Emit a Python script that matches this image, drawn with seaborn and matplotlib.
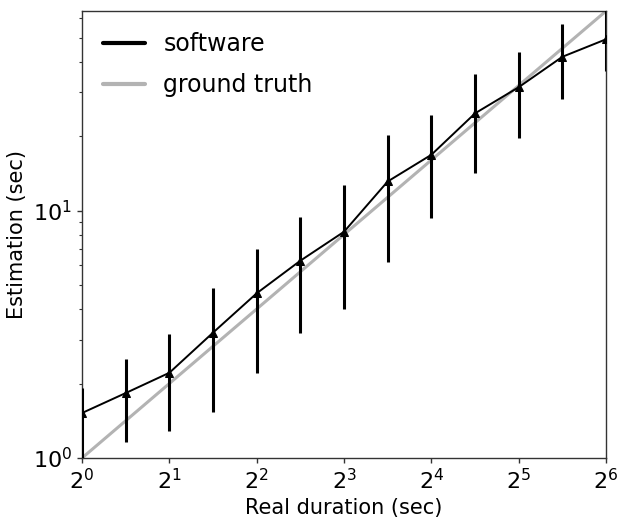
import numpy as np
import pandas as pd
import matplotlib
matplotlib.use("Agg")
import matplotlib.pyplot as plt
import seaborn as sns
from matplotlib.lines import Line2D
from matplotlib.ticker import LogFormatterSciNotation, NullLocator, LogLocator, NullFormatter

# -----------------------------
# DATA
# -----------------------------
real_duration = [1.0, 1.414, 2.0, 2.828, 4.0, 5.657, 8.0, 11.31, 16.0, 22.63, 32.0, 45.25, 64.0]
estimation = [1.52, 1.83, 2.21, 3.21, 4.63, 6.27, 8.21, 13.1, 16.8, 24.7, 31.5, 41.8, 49.2]
est_lower = [0.9, 1.16, 1.28, 1.54, 2.21, 3.21, 3.99, 6.17, 9.30, 14.2, 19.6, 28.1, 36.6]
est_upper = [1.91, 2.51, 3.16, 4.88, 6.97, 9.41, 12.7, 20.2, 24.3, 35.6, 43.8, 56.5, 66.0]
truth_x = [1.0, 64.0]
truth_y = [1.0, 64.0]
x_ticks = [1, 2, 4, 8, 16, 32, 64]

df = pd.DataFrame({"duration": real_duration, "estimation": estimation,
                   "lower": est_lower, "upper": est_upper})
truth = pd.DataFrame({"duration": truth_x, "estimation": truth_y})

# -----------------------------
# STYLE
# -----------------------------
sns.set_style("ticks")
plt.rcParams.update({
    "font.family": ["DejaVu Sans"],
    "text.color": "black",
    "axes.labelcolor": "black",
    "xtick.color": "#333333",
    "ytick.color": "#333333",
    "xtick.labelcolor": "black",
    "ytick.labelcolor": "black",
    "axes.edgecolor": "#333333",
    "axes.linewidth": 1.0,
    "xtick.direction": "out",
    "ytick.direction": "out",
})

fig = plt.figure(figsize=(6.2, 5.29), dpi=100)
ax = fig.add_axes([0.1323, 0.1342, 0.8452, 0.8450])

# ground truth
sns.lineplot(data=truth, x="duration", y="estimation", color="#b3b3b3",
             linewidth=2.2, ax=ax, zorder=2)

# error bars
yerr = np.array([df["estimation"] - df["lower"], df["upper"] - df["estimation"]])
ax.errorbar(df["duration"], df["estimation"], yerr=yerr, fmt="none",
            ecolor="black", elinewidth=2.2, capsize=0, zorder=3)

# software line
sns.lineplot(data=df, x="duration", y="estimation", color="black",
             linewidth=1.4, marker="^", markersize=5.5, markeredgecolor="black",
             ax=ax, zorder=4)

ax.set_xscale("log", base=2)
ax.set_yscale("log")
ax.set_xlim(1, 64)
ax.set_ylim(1, 64)

ax.set_xticks(x_ticks)
ax.xaxis.set_major_formatter(LogFormatterSciNotation(base=2))
ax.xaxis.set_minor_locator(NullLocator())
ax.yaxis.set_minor_locator(LogLocator(base=10, subs=np.arange(2, 10), numticks=30))
ax.yaxis.set_minor_formatter(NullFormatter())

ax.tick_params(axis="both", which="major", labelsize=16, length=3.5, width=1)
ax.tick_params(axis="y", which="minor", length=2, width=0.8, left=True)

ax.set_xlabel("Real duration (sec)", fontsize=15)
ax.set_ylabel("Estimation (sec)", fontsize=15)

handles = [Line2D([0], [0], color="black", linewidth=3),
           Line2D([0], [0], color="#b3b3b3", linewidth=3)]
ax.legend(handles, ["software", "ground truth"], loc="upper left",
          frameon=False, fontsize=17, handlelength=1.75, labelspacing=0.7)

fig.savefig("out.png", dpi=100)
